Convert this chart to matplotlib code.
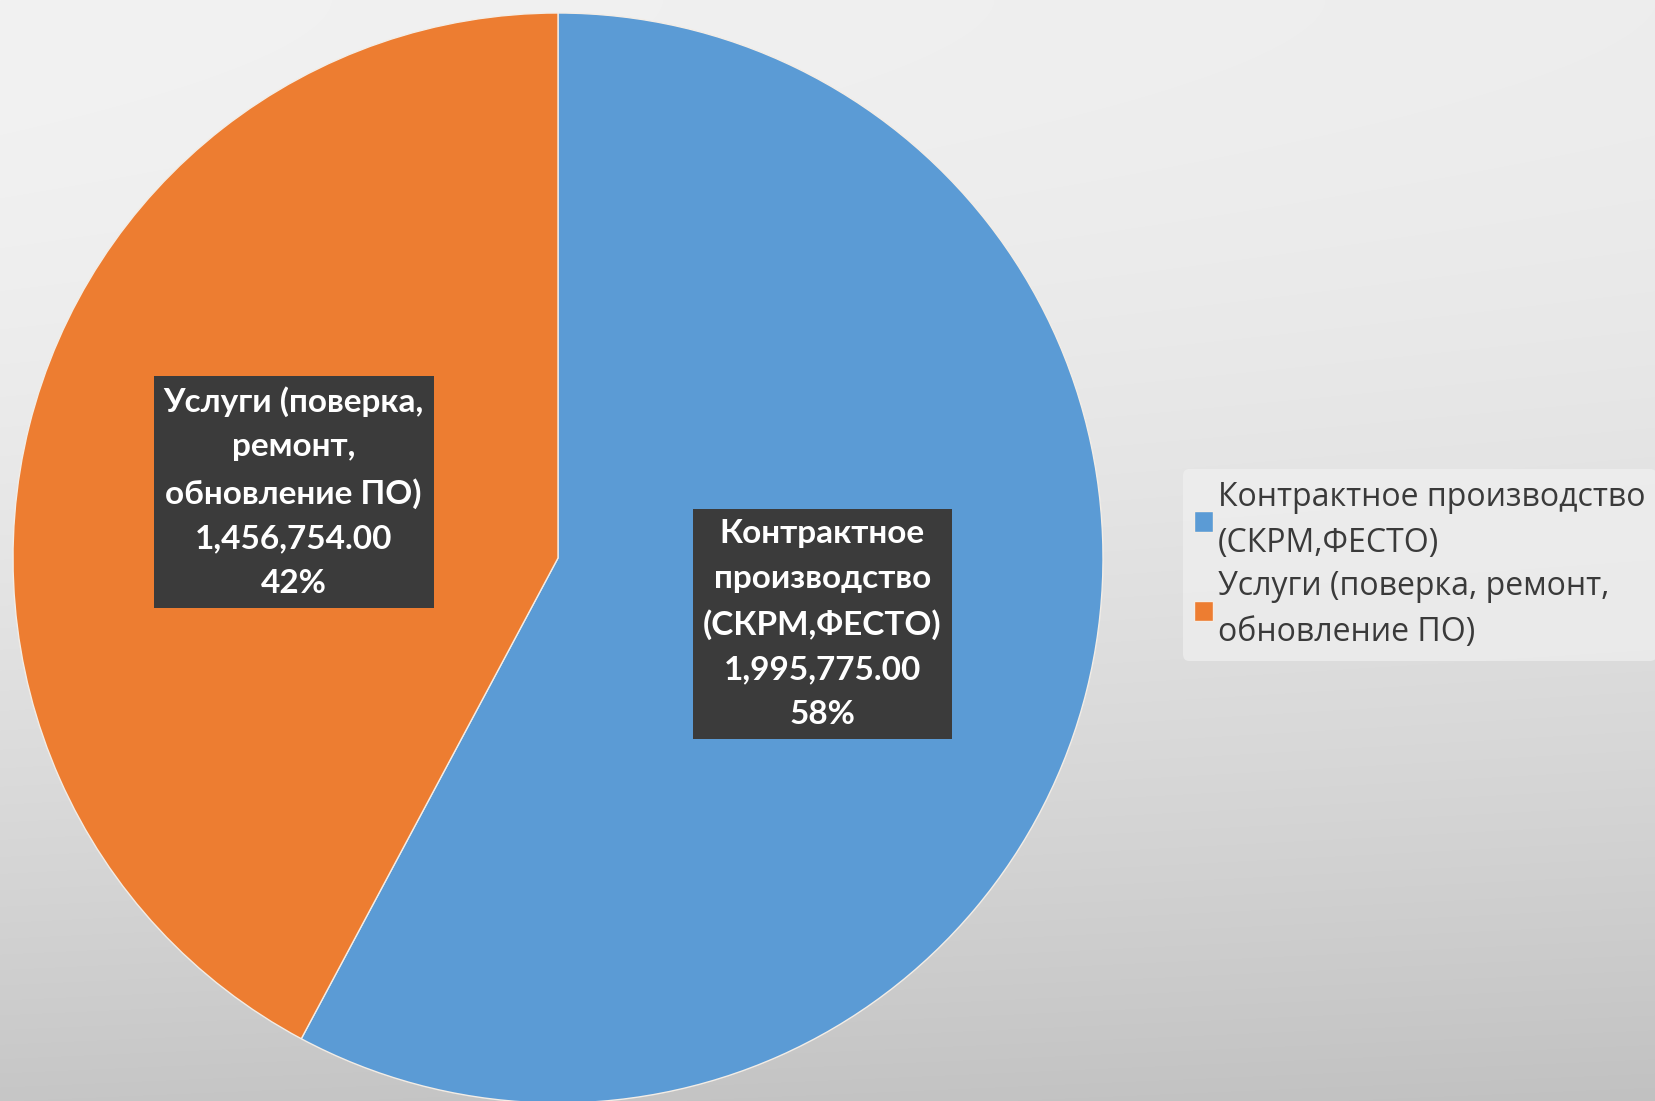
import numpy as np
import matplotlib
matplotlib.use("Agg")
import matplotlib.pyplot as plt

# data
categories = ["Контрактное производство\n(СКРМ,ФЕСТО)", "Услуги (поверка, ремонт,\nобновление ПО)"]
inner_labels = ["Контрактное\nпроизводство\n(СКРМ,ФЕСТО)", "Услуги (поверка,\nремонт,\nобновление ПО)"]
values = [1995775.00, 1456754.00]
colors = ["#5B9BD5", "#ED7D31"]

W, H = 1656, 1101
fig = plt.figure(figsize=(W / 100, H / 100), dpi=100)
ax = fig.add_axes([0, 0, 1, 1])

# grey gradient background
yy, xx = np.mgrid[0:H, 0:W]
shade = (242 - 5 * xx / W - 44 * (yy / H) ** 1.8) / 255
ax.imshow(np.dstack([shade] * 3), extent=(0, W, 0, H), origin="upper", zorder=0, aspect="auto")

wedges, texts, autotexts = ax.pie(
    values, colors=colors, startangle=90, counterclock=False,
    radius=545, center=(558, 543), autopct="%1.0f%%", pctdistance=0.5,
    wedgeprops=dict(edgecolor="#f3ede6", linewidth=1), frame=False)

total = sum(values)
for t, name, v in zip(autotexts, inner_labels, values):
    t.set_text(f"{name}\n{v:,.2f}\n{v / total * 100:.0f}%")
    t.set_color("white")
    t.set_fontsize(24)
    t.set_fontweight("bold")
    t.set_family("Lato")
    t.set_linespacing(1.65)
    t.set_bbox(dict(boxstyle="square,pad=0.3", facecolor="#3b3b3b", edgecolor="none"))

ax.set_xlim(0, W)
ax.set_ylim(0, H)
ax.set_aspect("auto")
ax.axis("off")

leg = ax.legend(wedges, categories, loc="center left",
                bbox_to_anchor=(1183 / W, 536 / H), frameon=True,
                prop={"family": "Open Sans", "size": 23},
                handlelength=0.6, handleheight=0.6, handletextpad=0.15,
                labelspacing=0.32, borderpad=0.35, borderaxespad=0)
leg.get_frame().set_facecolor("#f0f0f0")
leg.get_frame().set_edgecolor("none")
leg.get_frame().set_alpha(0.7)
for txt in leg.get_texts():
    txt.set_color("#3a3a3a")
    txt.set_linespacing(1.53)

fig.savefig("out.png", dpi=100)
